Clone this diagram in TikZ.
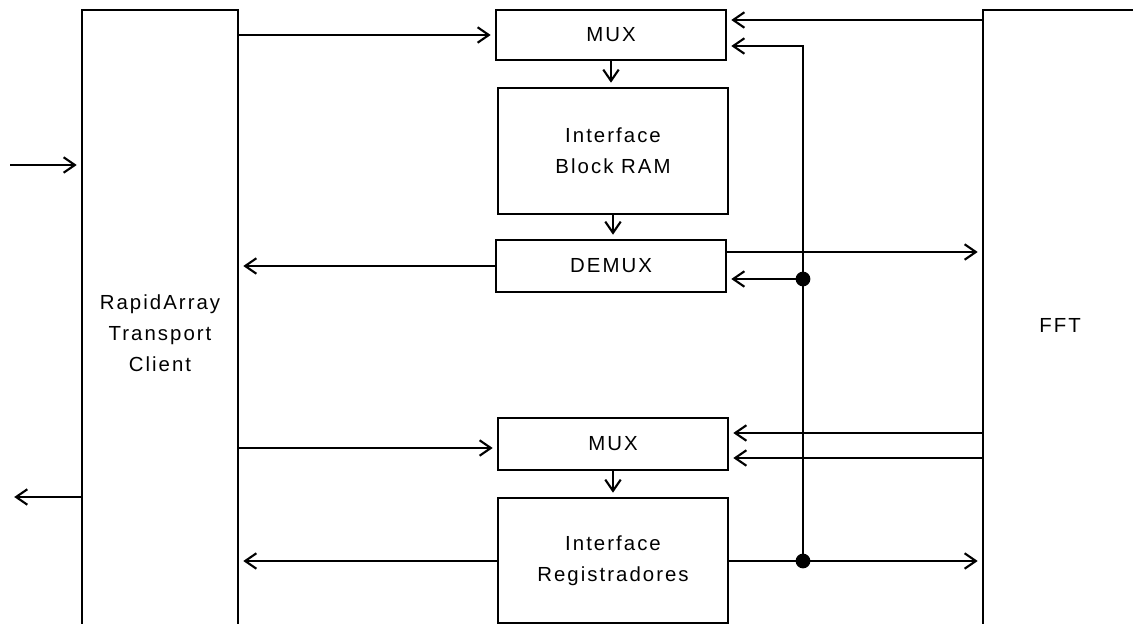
\documentclass[tikz,border=0pt]{standalone}
\usepackage{fontspec}
\setmainfont{Liberation Sans}[LetterSpace=10]
\usetikzlibrary{arrows.meta}

\begin{document}
\begin{tikzpicture}[x=0.025cm, y=-0.025cm, line width=1.5pt,
    >={Straight Barb[length=8pt,width=11pt]},
    blk/.style={draw, line width=1.5pt, align=center, inner sep=0pt,
        font=\fontsize{14.5}{22}\selectfont},
    arr/.style={->, shorten >=3pt},
    dot/.style={circle, fill, inner sep=0pt, minimum size=10.5pt}]
    \useasboundingbox (0,0) rectangle (1133,624);
    \begin{scope}
    \clip (0,0) rectangle (1133,624);
    \node[blk, minimum width=3.9cm, minimum height=16.15cm] (rapid) at (160,333) {RapidArray\\Transport\\Client};
    \node[blk, minimum width=3.85cm, minimum height=15.75cm] (fft) at (1060,325) {FFT};
    \node[blk, minimum width=5.75cm, minimum height=1.25cm] (mux1) at (611,35) {MUX};
    \node[blk, minimum width=5.75cm, minimum height=3.15cm] (ram) at (613,151) {Interface\\Block RAM};
    \node[blk, minimum width=5.75cm, minimum height=1.3cm] (demux) at (611,266) {DEMUX};
    \node[blk, minimum width=5.75cm, minimum height=1.3cm] (mux2) at (613,444) {MUX};
    \node[blk, minimum width=5.75cm, minimum height=3.125cm] (reg) at (613,560.5) {Interface\\Registradores};
    \end{scope}
    \coordinate (bt) at (803,46);
    \coordinate (in) at (10,165);
    \coordinate (out) at (10,497);
    \node[dot] (j1) at (803,279) {};
    \node[dot] (j2) at (803,561) {};
    \draw[arr] (rapid.east |- mux1.west) -- (mux1.west);
    \draw[arr] (fft.west |- 0,20) -- (mux1.east |- 0,20);
    \draw[arr] (j2.center) -- (bt) -- (mux1.east |- bt);
    \draw[arr] (mux1.south) -- (mux1.south |- ram.north);
    \draw[arr] (ram.south) -- (ram.south |- demux.north);
    \draw[arr] (demux.west) -- (rapid.east |- demux.west);
    \draw[arr] (demux.east |- 0,252) -- (fft.west |- 0,252);
    \draw[arr] (j1.center) -- (demux.east |- j1);
    \draw[arr] (rapid.east |- 0,448) -- (mux2.west |- 0,448);
    \draw[arr] (fft.west |- 0,433) -- (mux2.east |- 0,433);
    \draw[arr] (fft.west |- 0,458) -- (mux2.east |- 0,458);
    \draw[arr] (mux2.south) -- (mux2.south |- reg.north);
    \draw[arr] (reg.west |- j2) -- (rapid.east |- j2);
    \draw[arr] (reg.east |- j2) -- (fft.west |- j2);
    \draw[arr] (in) -- (rapid.west |- in);
    \draw[arr] (rapid.west |- out) -- (out);
\end{tikzpicture}
\end{document}
